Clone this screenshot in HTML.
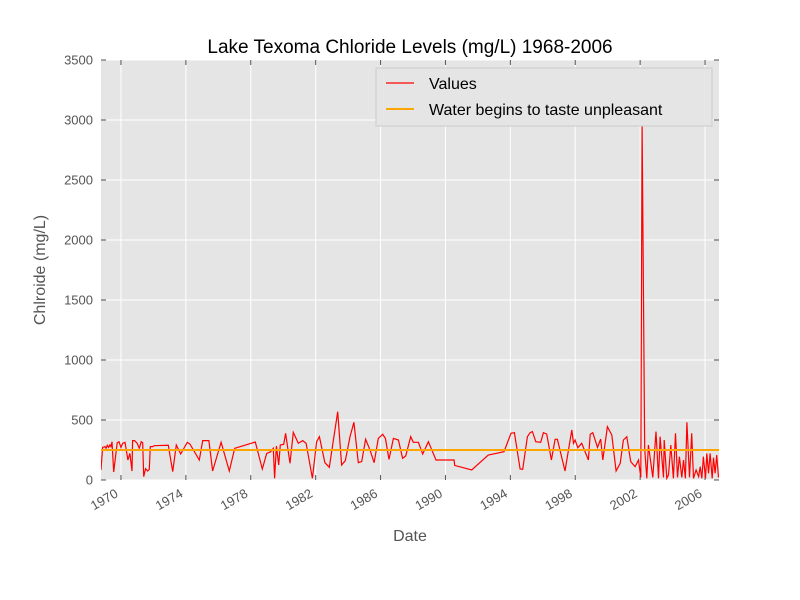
<!DOCTYPE html>
<html><head><meta charset="utf-8"><style>
body{margin:0;background:#fff;}
svg{display:block;font-family:"Liberation Sans","DejaVu Sans",sans-serif;}
</style></head><body>
<svg id="chart" width="800" height="600"></svg>
<script>
const years=[1968.77,1968.87,1969.01,1969.08,1969.16,1969.24,1969.32,1969.38,1969.45,1969.55,1969.77,1969.88,1970.0,1970.1,1970.25,1970.43,1970.55,1970.68,1970.72,1970.84,1971.0,1971.13,1971.25,1971.34,1971.4,1971.52,1971.65,1971.75,1971.81,1971.95,1972.05,1972.92,1973.19,1973.41,1973.68,1974.09,1974.25,1974.83,1975.04,1975.42,1975.65,1976.17,1976.68,1977.01,1978.28,1978.71,1978.98,1979.23,1979.39,1979.47,1979.58,1979.72,1979.82,1980.03,1980.15,1980.42,1980.62,1980.93,1981.2,1981.41,1981.8,1982.06,1982.23,1982.57,1982.84,1983.36,1983.6,1983.83,1984.12,1984.36,1984.63,1984.84,1985.08,1985.35,1985.6,1985.86,1986.13,1986.3,1986.52,1986.79,1987.1,1987.36,1987.55,1987.86,1988.02,1988.33,1988.6,1988.95,1989.42,1990.53,1990.57,1991.62,1992.64,1993.61,1994.04,1994.25,1994.6,1994.76,1995.05,1995.22,1995.36,1995.57,1995.87,1996.04,1996.24,1996.53,1996.76,1996.9,1997.37,1997.79,1997.89,1997.99,1998.16,1998.4,1998.81,1998.92,1999.08,1999.37,1999.57,1999.7,1999.98,2000.25,2000.52,2000.77,2000.97,2001.18,2001.42,2001.69,2001.9,2002.04,2002.12,2002.28,2002.41,2002.51,2002.78,2002.98,2003.13,2003.23,2003.44,2003.48,2003.64,2003.75,2003.89,2004.05,2004.18,2004.3,2004.42,2004.57,2004.67,2004.79,2004.88,2005.04,2005.18,2005.29,2005.45,2005.6,2005.7,2005.8,2005.9,2006.03,2006.11,2006.21,2006.31,2006.44,2006.52,2006.62,2006.72,2006.83];
const values=[83,272,278,264,289,272,292,278,319,67,311,319,272,306,314,167,222,75,328,328,306,264,319,311,28,94,75,89,278,278,286,289,69,292,217,314,300,167,328,328,75,314,75,264,317,92,222,236,264,14,283,125,292,297,389,139,397,306,328,306,14,319,361,144,106,569,125,161,361,481,144,153,339,250,144,347,381,347,172,347,333,181,200,361,314,314,217,319,167,167,122,83,208,236,389,394,92,89,361,394,403,319,314,394,383,167,339,339,75,417,306,333,269,306,167,381,394,272,342,167,444,375,75,139,333,361,153,111,167,22,2950,260,14,292,22,403,14,361,22,333,14,42,292,14,389,22,194,22,167,14,481,22,389,14,83,28,111,14,194,14,222,56,222,14,186,56,208,22];
const threshold=250;
const yTicks=[0,500,1000,1500,2000,2500,3000,3500];
const xTicks=[1970,1974,1978,1982,1986,1990,1994,1998,2002,2006];

const NS="http://www.w3.org/2000/svg";
const svg=document.getElementById('chart');
const L=101,R=719,T=60,B=480;
const x0=1968.77,x1=2006.86;
const xs=v=>L+(v-x0)/(x1-x0)*(R-L);
const ys=v=>B-v/3500*(B-T);
function mk(tag,attrs,parent){const e=document.createElementNS(NS,tag);for(const k in attrs)e.setAttribute(k,attrs[k]);(parent||svg).appendChild(e);return e;}

const bg=mk('rect',{x:L,y:T,width:R-L,height:B-T,fill:'#e5e5e5'});



yTicks.forEach(t=>{
  const g=mk('line',{x1:L,x2:R,y1:ys(t),y2:ys(t),stroke:'#fff','stroke-width':1});
  
  
  mk('line',{x1:L,x2:L+5,y1:ys(t),y2:ys(t),stroke:'#555'});
  mk('line',{x1:R-5,x2:R,y1:ys(t),y2:ys(t),stroke:'#555'});
  const tx=mk('text',{x:L-8,y:ys(t)+4.5,'text-anchor':'end','font-size':13,fill:'#555'});
  tx.textContent=t;
  
  
});
xTicks.forEach(t=>{
  const X=xs(t);
  const g=mk('line',{x1:X,x2:X,y1:T,y2:B,stroke:'#fff','stroke-width':1});
  
  
  mk('line',{x1:X,x2:X,y1:B-5,y2:B,stroke:'#555'});
  mk('line',{x1:X,x2:X,y1:T,y2:T+5,stroke:'#555'});
  const ax=X-2, ay=B+16;
  const tx=mk('text',{x:ax,y:ay,'text-anchor':'end','font-size':13,fill:'#555',transform:`rotate(-30 ${ax} ${ay})`});
  tx.textContent=t;
  
  
});

const clip=mk('clipPath',{id:'cp'});mk('rect',{x:L,y:T,width:R-L,height:B-T},clip);
const pts=years.map((y,i)=>xs(y).toFixed(1)+','+ys(values[i]).toFixed(1)).join(' ');
const line=mk('polyline',{points:pts,fill:'none',stroke:'#ff0000','stroke-width':1.2,'clip-path':'url(#cp)'});


const th=mk('line',{x1:L,x2:R,y1:ys(threshold),y2:ys(threshold),stroke:'#ffa500','stroke-width':2});



const title=mk('text',{x:410,y:53,'text-anchor':'middle','font-size':19,fill:'#000'});
title.textContent='Lake Texoma Chloride Levels (mg/L) 1968-2006';


const xl=mk('text',{x:410,y:541,'text-anchor':'middle','font-size':16,fill:'#555'});
xl.textContent='Date';


const yl=mk('text',{x:45,y:270,'text-anchor':'middle','font-size':16,fill:'#555',transform:'rotate(-90 45 270)'});
yl.textContent='Chlroide (mg/L)';



const lg=mk('g',{});


mk('rect',{x:376,y:68,width:336,height:58,fill:'#e5e5e5',stroke:'#ccc'},lg);
mk('line',{x1:386,x2:414,y1:83,y2:83,stroke:'#ff0000','stroke-width':1.2},lg);
const t1=mk('text',{x:429,y:89,'font-size':16,fill:'#000'},lg);t1.textContent='Values';


mk('line',{x1:386,x2:414,y1:109,y2:109,stroke:'#ffa500','stroke-width':2},lg);
const t2=mk('text',{x:429,y:115,'font-size':16,fill:'#000'},lg);t2.textContent='Water begins to taste unpleasant';


</script>
</body></html>
